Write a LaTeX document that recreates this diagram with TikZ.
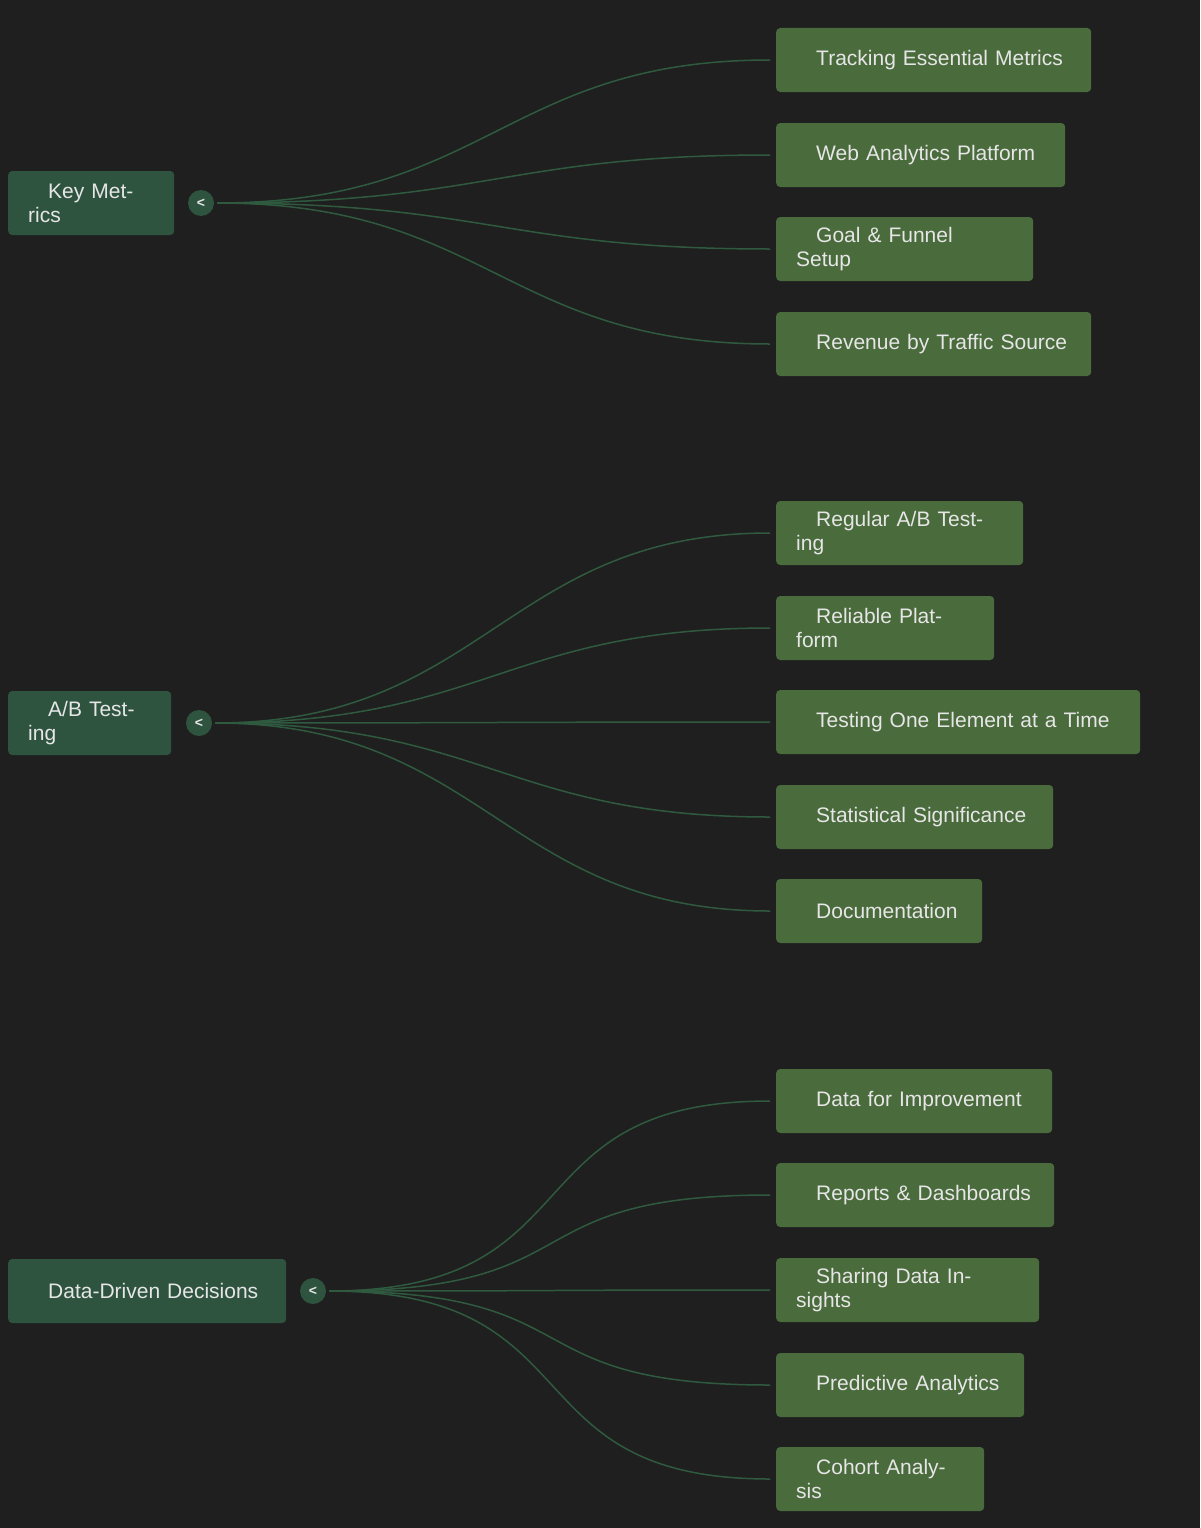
\documentclass[tikz,border=0pt]{standalone}
\usepackage{fontspec}
\setmainfont{Liberation Sans}
\definecolor{bg}{HTML}{1F1F1F}
\definecolor{lnode}{HTML}{2E5440}
\definecolor{rnode}{HTML}{4A6B3C}
\definecolor{edge}{HTML}{2F5A40}
\definecolor{txt}{HTML}{E6E6E6}
\begin{document}
\begin{tikzpicture}[x=1pt,y=-1pt,
  box/.style={draw=none,rounded corners=4pt,minimum height=64pt,inner xsep=0pt,anchor=west,
     font=\fontsize{21}{24}\selectfont,text=txt,align=left},
  lbox/.style={box,fill=lnode},
  rbox/.style={box,fill=rnode},
  knob/.style={circle,fill=lnode,minimum size=26pt,inner sep=0pt,text=txt,font=\bfseries\fontsize{14}{14}\selectfont},
  link/.style={draw=edge,line width=1.5pt}]
\fill[bg] (0,0) rectangle (1200,1528);
\useasboundingbox (0,0) rectangle (1200,1528);
\newcommand{\rnode}[4]{\node[rbox,minimum width=#3pt,text width=#3pt-40pt] (#1) at (776,#2) {\hspace*{20pt}#4};}
\newcommand{\lnode}[5]{\node[lbox,minimum width=#3pt,text width=#3pt-40pt] (#1) at (8,#2) {\hspace*{20pt}#4};
  \node[knob] (#1k) at (#5,#2) {<};
  \coordinate (#1s) at ([xshift=3pt]#1k.east);}
\newcommand{\cn}[2]{\draw[link] (#1s) .. controls ([xshift=270pt]#1s) and ([xshift=-270pt]#2.west) .. ([xshift=-6pt]#2.west);}
\lnode{km}{203}{166}{Key Metrics}{201}
\lnode{ab}{723}{163}{A/B Testing}{199}
\lnode{dd}{1291}{278}{Data-Driven Decisions}{313}
\rnode{a1}{60}{315}{Tracking Essential Metrics}
\rnode{a2}{155}{289}{Web Analytics Platform}
\rnode{a3}{249}{257}{Goal \& Funnel Setup}
\rnode{a4}{344}{315}{Revenue by Traffic Source}
\rnode{b1}{533}{247}{Regular A/B Testing}
\rnode{b2}{628}{218}{Reliable Platform}
\rnode{b3}{722}{364}{Testing One Element at a Time}
\rnode{b4}{817}{277}{Statistical Significance}
\rnode{b5}{911}{206}{Documentation}
\rnode{c1}{1101}{276}{Data for Improvement}
\rnode{c2}{1195}{278}{Reports \& Dashboards}
\rnode{c3}{1290}{263}{Sharing Data Insights}
\rnode{c4}{1385}{248}{Predictive Analytics}
\rnode{c5}{1479}{208}{Cohort Analysis}
\foreach \t in {a1,a2,a3,a4}{\cn{km}{\t}}
\foreach \t in {b1,b2,b3,b4,b5}{\cn{ab}{\t}}
\foreach \t in {c1,c2,c3,c4,c5}{\cn{dd}{\t}}
\end{tikzpicture}
\end{document}
